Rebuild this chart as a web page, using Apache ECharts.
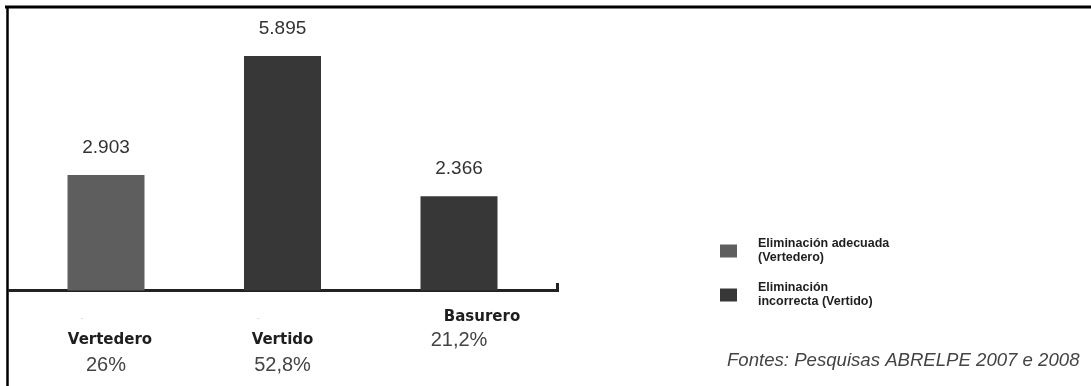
<!DOCTYPE html>
<html>
<head>
<meta charset="utf-8">
<script src="https://cdn.jsdelivr.net/npm/echarts@6/dist/echarts.min.js"></script>
<style>html,body{margin:0;padding:0;background:#fff;}#c{width:1091px;height:386px;}</style>
</head>
<body>
<div id="c"></div>
<script>
var categories = ['Vertedero', 'Vertido', 'Basurero'];
var percentLabels = ['26%', '52,8%', '21,2%'];
var adecuadaValues = [2903, '-', '-'];
var incorrectaValues = ['-', 5895, 2366];
var seriesNames = ['Eliminación adecuada\n(Vertedero)', 'Eliminación\nincorrecta (Vertido)'];
var sourceText = 'Fontes: Pesquisas ABRELPE 2007 e 2008';

var chart = echarts.init(document.getElementById('c'));
function fmtNum(v){ return String(v).replace(/(\d)(\d{3})$/, '$1.$2'); }
var labelCfg = {
  show: true, position: 'top', distance: 18,
  fontFamily: 'Liberation Sans', fontSize: 19, color: '#333',
  formatter: function(p){ return fmtNum(p.value); }
};
chart.setOption({
  animation: false,
  backgroundColor: '#fff',
  grid: { left: 17.75, right: 543.75, top: 12, bottom: 95.5 },
  xAxis: {
    type: 'category',
    data: categories,
    axisLine: { show: false },
    axisTick: { show: false },
    axisLabel: {
      margin: 16,
      interval: 0,
      formatter: function(v, i){
        if (i === 2) return '{nb|' + v + '}\n{pb|' + percentLabels[i] + '}';
        return '{d|-}\n{n' + i + '|' + v + '}\n{p|' + percentLabels[i] + '}';
      },
      rich: {
        d: { fontFamily: 'Liberation Sans', fontSize: 8, lineHeight: 22, color: '#bbb', padding: [0, 48, 0, 0] },
        n0: { fontFamily: 'DejaVu Sans', fontWeight: 'bold', fontSize: 15, lineHeight: 24, color: '#1e1e1e', padding: [0, 0, 0, 8] },
        n1: { fontFamily: 'DejaVu Sans', fontWeight: 'bold', fontSize: 15, lineHeight: 24, color: '#1e1e1e' },
        p: { fontFamily: 'Liberation Sans', fontSize: 20, lineHeight: 26, color: '#444' },
        nb: { fontFamily: 'DejaVu Sans', fontWeight: 'bold', fontSize: 15, lineHeight: 22, color: '#1e1e1e', padding: [0, 0, 0, 46] },
        pb: { fontFamily: 'Liberation Sans', fontSize: 20, lineHeight: 24, color: '#444' }
      }
    }
  },
  yAxis: { type: 'value', min: 0, max: 7000, show: false, splitLine: { show: false } },
  legend: {
    orient: 'vertical', left: 720, top: 237, padding: 0,
    itemWidth: 17, itemHeight: 13, itemGap: 16,
    icon: 'rect',
    data: seriesNames,
    textStyle: { fontFamily: 'Liberation Sans', fontWeight: 'bold', fontSize: 12.5, lineHeight: 14, color: '#1e1e1e', padding: [0, 0, 0, 16] }
  },
  series: [
    { name: seriesNames[0], type: 'bar', stack: 'a', barWidth: 77, data: adecuadaValues,
      itemStyle: { color: '#5e5e5e' }, label: labelCfg },
    { name: seriesNames[1], type: 'bar', stack: 'a', barWidth: 77, data: incorrectaValues,
      itemStyle: { color: '#373737' }, label: labelCfg }
  ],
  graphic: [
    { type: 'line', shape: { x1: 5, y1: 7, x2: 1091, y2: 7 }, style: { stroke: '#000', lineWidth: 3 } },
    { type: 'line', shape: { x1: 7.5, y1: 6, x2: 7.5, y2: 386 }, style: { stroke: '#000', lineWidth: 2.5 } },
    { type: 'line', shape: { x1: 8, y1: 290.5, x2: 559, y2: 290.5 }, style: { stroke: '#222', lineWidth: 3 } },
    { type: 'line', shape: { x1: 557.5, y1: 283, x2: 557.5, y2: 291.5 }, style: { stroke: '#222', lineWidth: 3 } },
    { type: 'text', left: 727, top: 351, style: { text: sourceText, fontFamily: 'Liberation Sans', fontStyle: 'italic', fontSize: 18.6, fill: '#444' } }
  ]
});
</script>
</body>
</html>
